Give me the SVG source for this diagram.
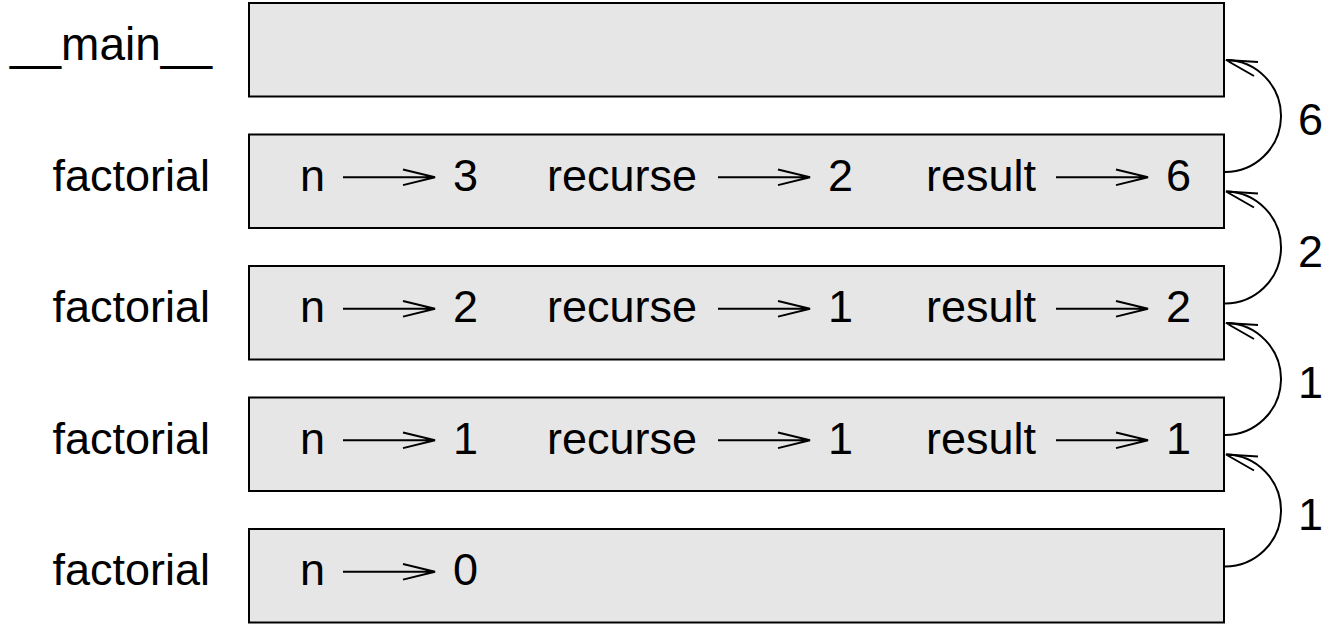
<svg xmlns="http://www.w3.org/2000/svg" width="1329" height="625" viewBox="0 0 1329 625">
<style>
.box{fill:#e6e6e6;stroke:#000;stroke-width:2}
text{font-family:"Liberation Sans",Arial,sans-serif;font-size:45px;fill:#000}
.lbl{text-anchor:end}
.ln{stroke:#000;stroke-width:2;fill:none}
</style>
<rect width="1329" height="625" fill="#fff"/>
<g id="frame-main">
<rect class="box" x="249" y="3" width="975" height="93.5"/>
<text class="lbl" x="212" y="60" style="font-size:46px">__main__</text>
</g>
<g id="frame-1" transform="translate(0,131.5)">
<rect class="box" x="249" y="3" width="975" height="93.5"/>
<text class="lbl" x="210" y="59">factorial</text>
<text x="300" y="59">n</text><text x="453" y="59">3</text>
<text x="547" y="59">recurse</text><text x="828" y="59">2</text>
<text x="926" y="59">result</text><text x="1166" y="59">6</text>
</g>
<g id="frame-2" transform="translate(0,263)">
<rect class="box" x="249" y="3" width="975" height="93.5"/>
<text class="lbl" x="210" y="59">factorial</text>
<text x="300" y="59">n</text><text x="453" y="59">2</text>
<text x="547" y="59">recurse</text><text x="828" y="59">1</text>
<text x="926" y="59">result</text><text x="1166" y="59">2</text>
</g>
<g id="frame-3" transform="translate(0,394.5)">
<rect class="box" x="249" y="3" width="975" height="93.5"/>
<text class="lbl" x="210" y="59">factorial</text>
<text x="300" y="59">n</text><text x="453" y="59">1</text>
<text x="547" y="59">recurse</text><text x="828" y="59">1</text>
<text x="926" y="59">result</text><text x="1166" y="59">1</text>
</g>
<g id="frame-4" transform="translate(0,526)">
<rect class="box" x="249" y="3" width="975" height="93.5"/>
<text class="lbl" x="210" y="59">factorial</text>
<text x="300" y="59">n</text><text x="453" y="59">0</text>
</g>
<g id="connectors">
<g id="var-arrows">
<path class="ln" d="M343,177.3 H435 M403,169.5 L435,177.3 L403,185.1"/>
<path class="ln" d="M718,177.3 H810 M778,169.5 L810,177.3 L778,185.1"/>
<path class="ln" d="M1056,177.3 H1148 M1116,169.5 L1148,177.3 L1116,185.1"/>
<g transform="translate(0,131.5)">
<path class="ln" d="M343,177.3 H435 M403,169.5 L435,177.3 L403,185.1"/>
<path class="ln" d="M718,177.3 H810 M778,169.5 L810,177.3 L778,185.1"/>
<path class="ln" d="M1056,177.3 H1148 M1116,169.5 L1148,177.3 L1116,185.1"/>
</g>
<g transform="translate(0,263)">
<path class="ln" d="M343,177.3 H435 M403,169.5 L435,177.3 L403,185.1"/>
<path class="ln" d="M718,177.3 H810 M778,169.5 L810,177.3 L778,185.1"/>
<path class="ln" d="M1056,177.3 H1148 M1116,169.5 L1148,177.3 L1116,185.1"/>
</g>
<g transform="translate(0,394.5)">
<path class="ln" d="M343,177.3 H435 M403,169.5 L435,177.3 L403,185.1"/>
</g>
</g>
<g id="return-arrows">
<g id="ret-6">
<path class="ln" d="M1224,172 A56,56 0 0 0 1226,60"/>
<path class="ln" d="M1258,62 L1226,60 L1254,76"/>
<text x="1298" y="135">6</text>
</g>
<g id="ret-2" transform="translate(0,131.5)">
<path class="ln" d="M1224,172 A56,56 0 0 0 1226,60"/>
<path class="ln" d="M1258,62 L1226,60 L1254,76"/>
<text x="1298" y="135">2</text>
</g>
<g id="ret-1a" transform="translate(0,263)">
<path class="ln" d="M1224,172 A56,56 0 0 0 1226,60"/>
<path class="ln" d="M1258,62 L1226,60 L1254,76"/>
<text x="1298" y="135">1</text>
</g>
<g id="ret-1b" transform="translate(0,394.5)">
<path class="ln" d="M1224,172 A56,56 0 0 0 1226,60"/>
<path class="ln" d="M1258,62 L1226,60 L1254,76"/>
<text x="1298" y="135">1</text>
</g>
</g>
</g>
</svg>
